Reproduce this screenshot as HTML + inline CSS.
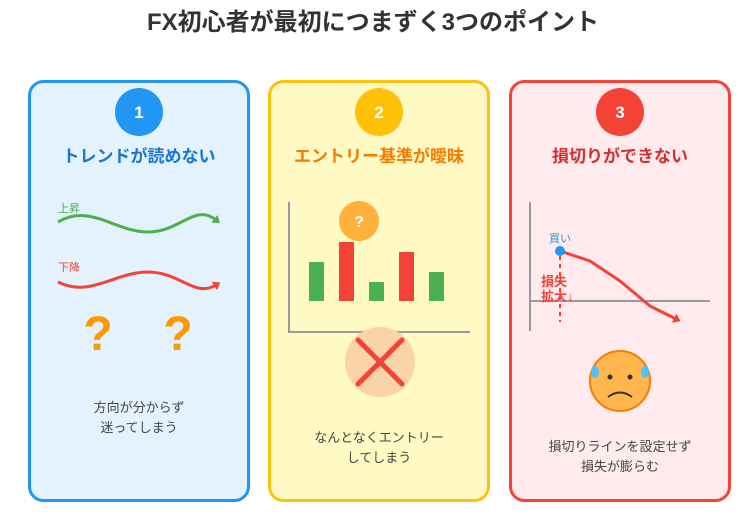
<!DOCTYPE html>
<html><head><meta charset="utf-8"><style>
html,body{margin:0;padding:0;background:#fff;}
svg{display:block;font-family:"Liberation Sans","Noto Sans CJK JP",sans-serif;}
</style></head><body>
<svg width="746" height="521" viewBox="0 0 746 521" xmlns="http://www.w3.org/2000/svg">
<defs>
<marker id="ag" markerWidth="8" markerHeight="10" refX="2" refY="5" orient="auto" markerUnits="userSpaceOnUse"><path d="M0,0 L7,5 L0,10 z" fill="#4CAF50"/></marker>
<marker id="ar" markerWidth="8" markerHeight="10" refX="2" refY="5" orient="auto" markerUnits="userSpaceOnUse"><path d="M0,0 L7,5 L0,10 z" fill="#F44336"/></marker>
</defs>
<text x="373" y="30" text-anchor="middle" font-size="24" font-weight="bold" fill="#333">FX初心者が最初につまずく3つのポイント</text>

<!-- Panel 1 -->
<rect x="29.5" y="81.5" width="219" height="419" rx="14" fill="#E3F2FD" stroke="#2196F3" stroke-width="3"/>
<circle cx="139" cy="112" r="24" fill="#2196F3"/>
<text x="139" y="118" text-anchor="middle" font-size="17" font-weight="bold" fill="#fff">1</text>
<text x="139" y="162" text-anchor="middle" font-size="17" font-weight="bold" fill="#1976D2">トレンドが読めない</text>
<text x="58" y="212" font-size="11" fill="#4CAF50">上昇</text>
<path d="M58,222 C90,203 115,232 148,232 C180,232 195,203 216,220" fill="none" stroke="#4CAF50" stroke-width="3" marker-end="url(#ag)"/>
<text x="58" y="271" font-size="11" fill="#F44336">下降</text>
<path d="M58,282 C90,298 115,272 148,272 C180,272 195,298 216,285" fill="none" stroke="#F44336" stroke-width="3" marker-end="url(#ar)"/>
<text x="98" y="350" text-anchor="middle" font-size="48" font-weight="bold" fill="#FF9800">?</text>
<text x="178" y="350" text-anchor="middle" font-size="48" font-weight="bold" fill="#FF9800">?</text>
<text x="139" y="412" text-anchor="middle" font-size="13" fill="#444">方向が分からず</text>
<text x="139" y="432" text-anchor="middle" font-size="13" fill="#444">迷ってしまう</text>

<!-- Panel 2 -->
<rect x="269.5" y="81.5" width="219" height="419" rx="14" fill="#FFF9C4" stroke="#FFC107" stroke-width="3"/>
<circle cx="379" cy="112" r="24" fill="#FFC107"/>
<text x="379" y="118" text-anchor="middle" font-size="17" font-weight="bold" fill="#fff">2</text>
<text x="379" y="162" text-anchor="middle" font-size="17" font-weight="bold" fill="#F57C00">エントリー基準が曖昧</text>
<path d="M289,202 V332 H470" fill="none" stroke="#999" stroke-width="2"/>
<rect x="309" y="262" width="15" height="39" fill="#4CAF50"/>
<rect x="339" y="242" width="15" height="59" fill="#F44336"/>
<rect x="369" y="282" width="15" height="19" fill="#4CAF50"/>
<rect x="399" y="252" width="15" height="49" fill="#F44336"/>
<rect x="429" y="272" width="15" height="29" fill="#4CAF50"/>
<circle cx="359" cy="221" r="20" fill="#FFB13B"/>
<text x="359" y="227" text-anchor="middle" font-size="16" font-weight="bold" fill="#fff">?</text>
<circle cx="380" cy="362" r="35" fill="#FAD3A8"/>
<path d="M380,362 m-22,-22 l44,44 m0,-44 l-44,44" stroke="#F44336" stroke-width="5" stroke-linecap="round"/>
<text x="379" y="442" text-anchor="middle" font-size="13" fill="#444">なんとなくエントリー</text>
<text x="379" y="462" text-anchor="middle" font-size="13" fill="#444">してしまう</text>

<!-- Panel 3 -->
<rect x="510.5" y="81.5" width="219" height="419" rx="14" fill="#FFEBEE" stroke="#F44336" stroke-width="3"/>
<circle cx="620" cy="112" r="24" fill="#F44336"/>
<text x="620" y="118" text-anchor="middle" font-size="17" font-weight="bold" fill="#fff">3</text>
<text x="620" y="162" text-anchor="middle" font-size="17" font-weight="bold" fill="#D32F2F">損切りができない</text>
<path d="M530,202 V331 M530,301 H710" fill="none" stroke="#999" stroke-width="2"/>
<line x1="560" y1="256" x2="560" y2="322" stroke="#F44336" stroke-width="2" stroke-dasharray="4,4"/>
<path d="M560,251 L590,261 L620,281 L650,306 L676,319" fill="none" stroke="#F44336" stroke-width="3" marker-end="url(#ar)"/>
<circle cx="560" cy="251" r="5" fill="#2196F3"/>
<text x="560" y="242" text-anchor="middle" font-size="11" fill="#2196F3">買い</text>
<text x="541" y="286" font-size="13" font-weight="bold" fill="#F44336">損失</text>
<text x="541" y="301" font-size="13" font-weight="bold" fill="#F44336">拡大↓</text>
<circle cx="620" cy="381" r="30" fill="#FFB74D" stroke="#F57C00" stroke-width="2"/>
<ellipse cx="595" cy="372" rx="4" ry="6" fill="#4FC3F7"/>
<ellipse cx="645" cy="372" rx="4" ry="6" fill="#4FC3F7"/>
<circle cx="610" cy="377" r="2.5" fill="#333"/>
<circle cx="630" cy="377" r="2.5" fill="#333"/>
<path d="M608,397 Q620,388 632,397" fill="none" stroke="#333" stroke-width="2"/>
<text x="620" y="451" text-anchor="middle" font-size="13" fill="#444">損切りラインを設定せず</text>
<text x="620" y="471" text-anchor="middle" font-size="13" fill="#444">損失が膨らむ</text>
</svg>
</body></html>
